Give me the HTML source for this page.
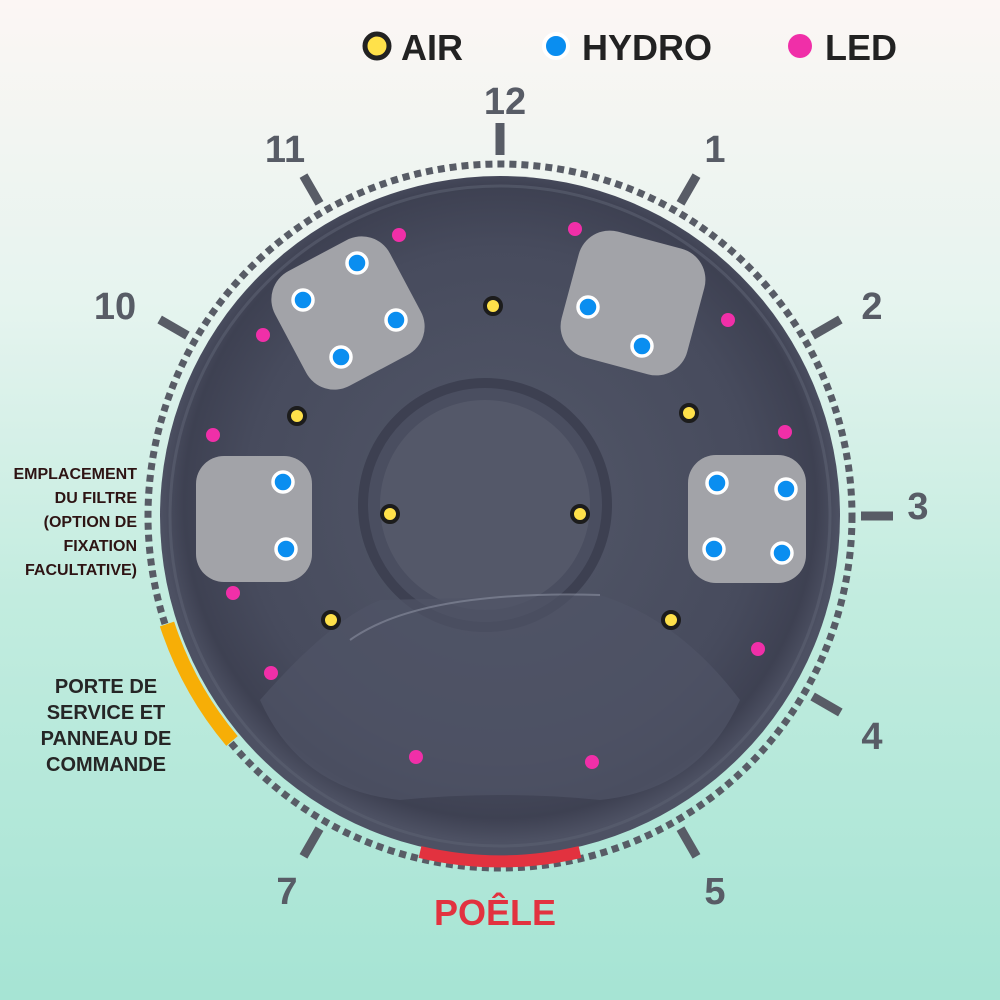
<!DOCTYPE html>
<html><head><meta charset="utf-8"><style>
html,body{margin:0;padding:0;width:1000px;height:1000px;overflow:hidden}
body{background:linear-gradient(180deg,#fcf6f4 0%,#e6f4ef 30%,#c2ecdf 60%,#a6e4d4 100%);font-family:"Liberation Sans",sans-serif}
</style></head><body>
<svg width="1000" height="1000" viewBox="0 0 1000 1000" xmlns="http://www.w3.org/2000/svg">
<defs>
<radialGradient id="tub" cx="0.5" cy="0.48" r="0.5">
<stop offset="0" stop-color="#535869"/><stop offset="0.75" stop-color="#474b5d"/><stop offset="0.93" stop-color="#3e4152"/><stop offset="1" stop-color="#4d5163"/>
</radialGradient>
</defs>
<g font-weight="bold" font-size="36" fill="#222">
<circle cx="377" cy="46" r="12" fill="#ffe14a" stroke="#222" stroke-width="5"/>
<text x="401" y="60">AIR</text>
<circle cx="556" cy="46" r="12" fill="#0a8ef0" stroke="#fff" stroke-width="4"/>
<text x="582" y="60">HYDRO</text>
<circle cx="800" cy="46" r="12" fill="#f02fa8"/>
<text x="825" y="60">LED</text>
</g>
<circle cx="500" cy="516" r="352" fill="none" stroke="#585c66" stroke-width="7" stroke-dasharray="7 5"/>
<circle cx="500" cy="516" r="340" fill="url(#tub)"/>
<circle cx="500" cy="516" r="330" fill="none" stroke="#5b6072" stroke-width="3" opacity="0.6"/>
<circle cx="485" cy="505" r="122" fill="#4a4e60" stroke="#3d4051" stroke-width="10"/>
<circle cx="485" cy="505" r="105" fill="#545869"/>
<path d="M260 700 Q330 620 380 600 L600 595 Q680 620 740 700 Q700 790 600 800 Q500 790 400 800 Q300 790 260 700Z" fill="#505466" opacity="0.7"/>
<path d="M350 640 Q420 590 600 595" fill="none" stroke="#8a8fa0" stroke-width="2" opacity="0.6"/>
<g fill="#a2a3a8">
<rect x="283" y="248" width="130" height="130" rx="32" transform="rotate(-28 348 313)"/>
<rect x="568" y="238" width="130" height="130" rx="32" transform="rotate(15 633 303)"/>
<rect x="196" y="456" width="116" height="126" rx="28"/>
<rect x="688" y="455" width="118" height="128" rx="28"/>
</g>
<path d="M167 624 A350 350 0 0 0 232 741" fill="none" stroke="#f7ae06" stroke-width="15"/>
<path d="M420 852 A345 345 0 0 0 580 852" fill="none" stroke="#e2323f" stroke-width="12"/>
<g stroke="#585c66" stroke-width="9">
<line x1="500" y1="123" x2="500" y2="155" transform="rotate(0 500 516)"/>
<line x1="500" y1="123" x2="500" y2="155" transform="rotate(30 500 516)"/>
<line x1="500" y1="123" x2="500" y2="155" transform="rotate(60 500 516)"/>
<line x1="500" y1="123" x2="500" y2="155" transform="rotate(90 500 516)"/>
<line x1="500" y1="123" x2="500" y2="155" transform="rotate(120 500 516)"/>
<line x1="500" y1="123" x2="500" y2="155" transform="rotate(150 500 516)"/>
<line x1="500" y1="123" x2="500" y2="155" transform="rotate(210 500 516)"/>
<line x1="500" y1="123" x2="500" y2="155" transform="rotate(300 500 516)"/>
<line x1="500" y1="123" x2="500" y2="155" transform="rotate(330 500 516)"/>
</g>
<g font-weight="bold" font-size="38" fill="#585c66" text-anchor="middle">
<text x="505" y="114">12</text>
<text x="715" y="162">1</text>
<text x="872" y="319">2</text>
<text x="918" y="519">3</text>
<text x="872" y="749">4</text>
<text x="715" y="904">5</text>
<text x="287" y="904">7</text>
<text x="115" y="319">10</text>
<text x="285" y="162">11</text>
</g>
<text x="495" y="925" font-weight="bold" font-size="36" fill="#e2323f" text-anchor="middle">POÊLE</text>
<g font-weight="bold" font-size="16" fill="#2e1414" text-anchor="end">
<text x="137" y="479">EMPLACEMENT</text>
<text x="137" y="503">DU FILTRE</text>
<text x="137" y="527">(OPTION DE</text>
<text x="137" y="551">FIXATION</text>
<text x="137" y="575">FACULTATIVE)</text>
</g>
<g font-weight="bold" font-size="20" fill="#262626" text-anchor="middle">
<text x="106" y="693">PORTE DE</text>
<text x="106" y="719">SERVICE ET</text>
<text x="106" y="745">PANNEAU DE</text>
<text x="106" y="771">COMMANDE</text>
</g>
<g fill="#ffe14a" stroke="#1c1c1c" stroke-width="4">
<circle cx="493" cy="306" r="8"/><circle cx="297" cy="416" r="8"/><circle cx="689" cy="413" r="8"/>
<circle cx="390" cy="514" r="8"/><circle cx="580" cy="514" r="8"/><circle cx="331" cy="620" r="8"/><circle cx="671" cy="620" r="8"/>
</g>
<g fill="#0a8ef0" stroke="#fff" stroke-width="3.5">
<circle cx="357" cy="263" r="10"/><circle cx="303" cy="300" r="10"/><circle cx="396" cy="320" r="10"/><circle cx="341" cy="357" r="10"/>
<circle cx="588" cy="307" r="10"/><circle cx="642" cy="346" r="10"/>
<circle cx="283" cy="482" r="10"/><circle cx="286" cy="549" r="10"/>
<circle cx="717" cy="483" r="10"/><circle cx="786" cy="489" r="10"/><circle cx="714" cy="549" r="10"/><circle cx="782" cy="553" r="10"/>
</g>
<g fill="#f02fa8">
<circle cx="399" cy="235" r="7"/><circle cx="575" cy="229" r="7"/><circle cx="263" cy="335" r="7"/><circle cx="728" cy="320" r="7"/>
<circle cx="213" cy="435" r="7"/><circle cx="785" cy="432" r="7"/><circle cx="233" cy="593" r="7"/><circle cx="758" cy="649" r="7"/>
<circle cx="271" cy="673" r="7"/><circle cx="416" cy="757" r="7"/><circle cx="592" cy="762" r="7"/>
</g>
</svg>
</body></html>
